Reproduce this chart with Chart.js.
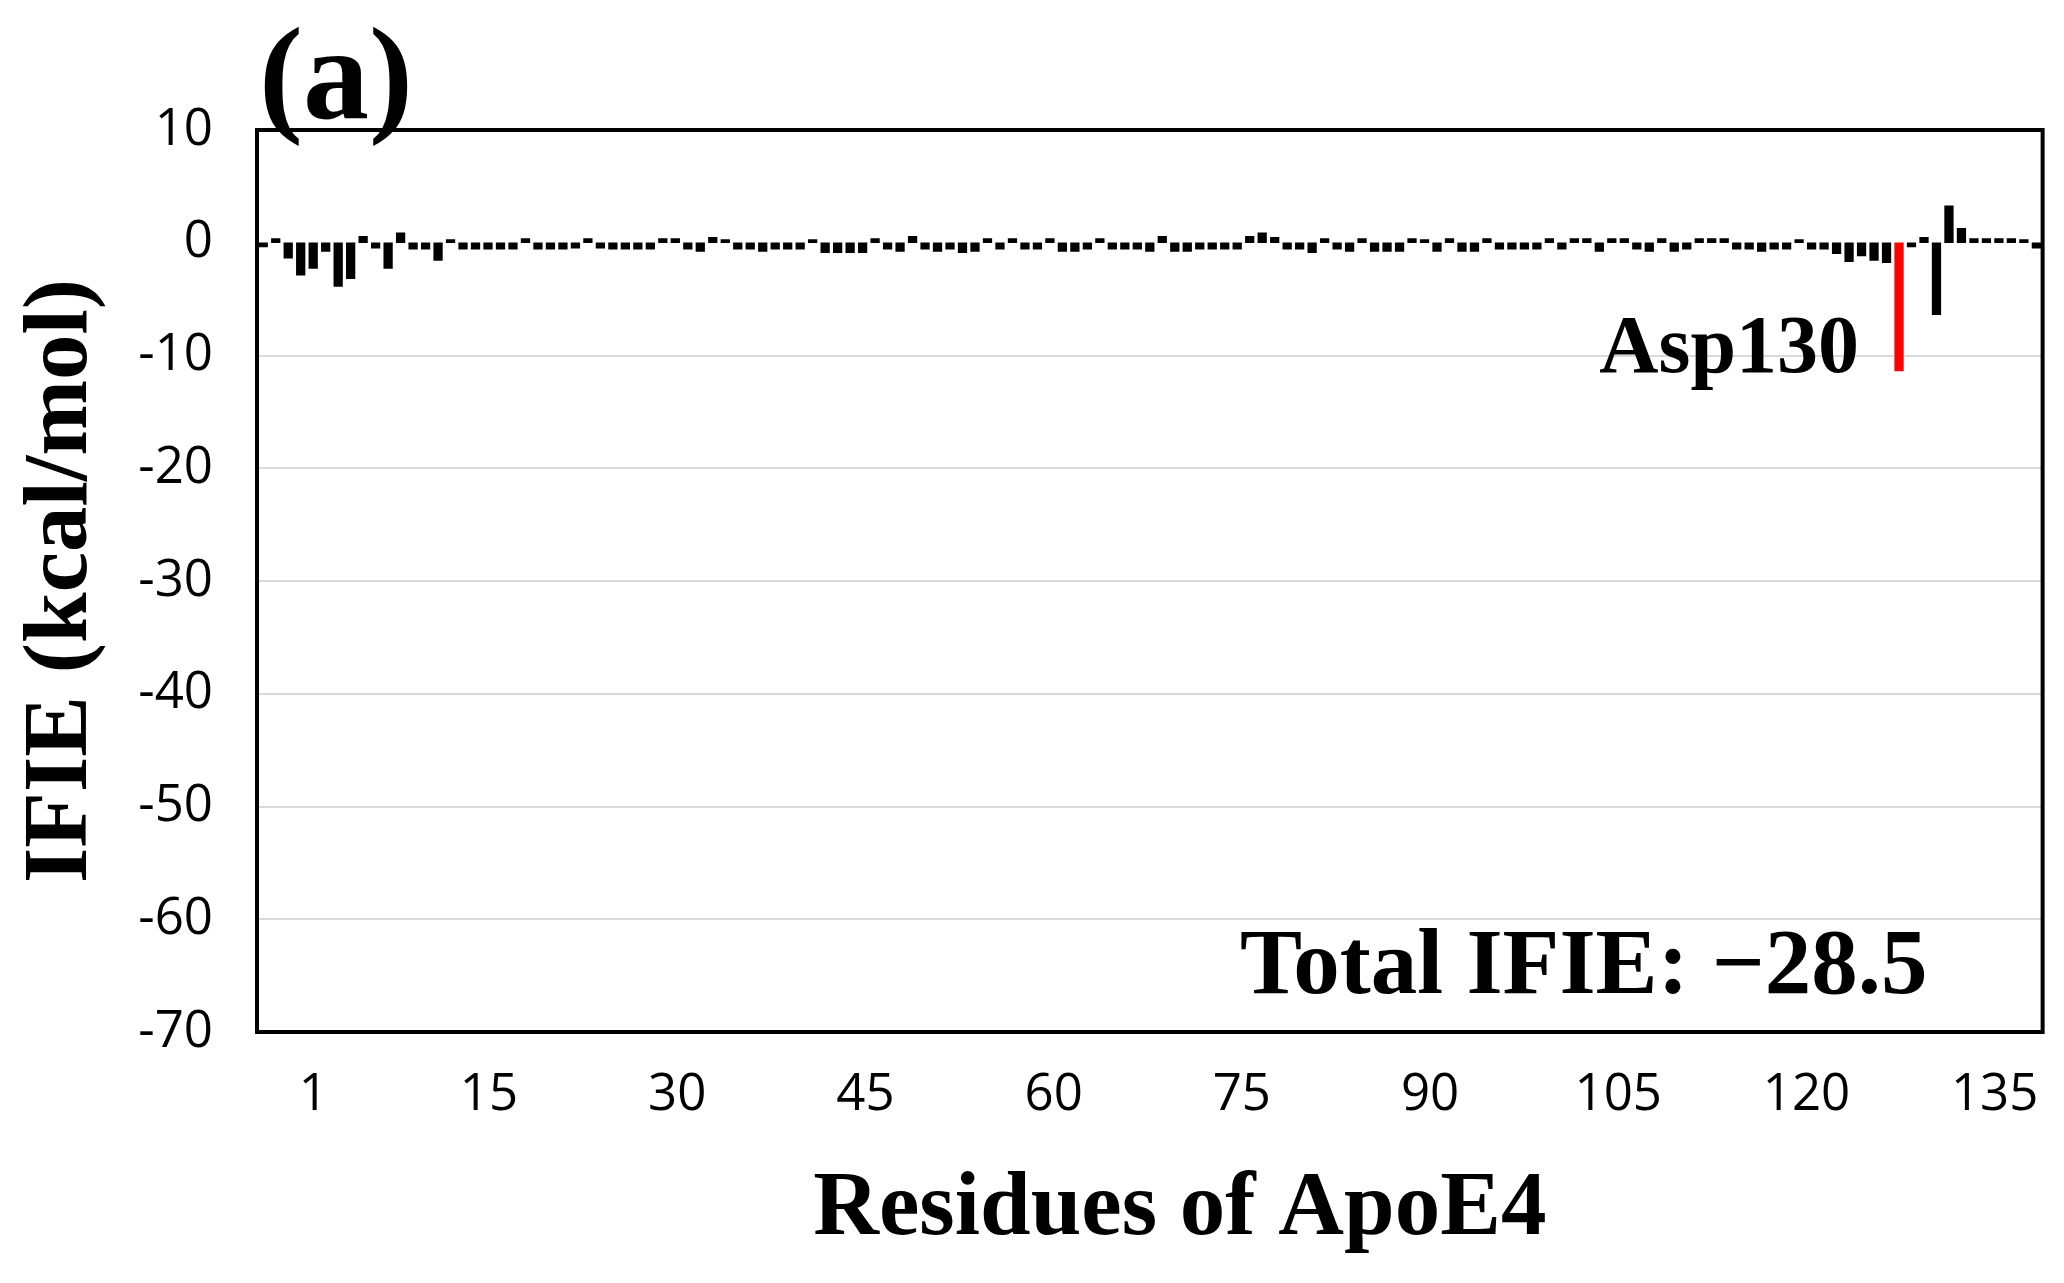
<!DOCTYPE html>
<html>
<head>
<meta charset="utf-8">
<script src="https://cdn.jsdelivr.net/npm/chart.js@4"></script>
<style>
  html, body { margin: 0; padding: 0; background: #fff; }
</style>
</head>
<body>
<canvas id="ifieChart" width="2064" height="1283"></canvas>
<script>
// Residue numbers of ApoE4 (x categories)
const residues = [
  -1, 0, 1, 2, 3, 4, 5, 6, 7, 8, 9, 10, 11, 12, 13, 14, 15, 16, 17, 18,
  19, 20, 21, 22, 23, 24, 25, 26, 27, 28, 29, 30, 31, 32, 33, 34, 35, 36, 37, 38,
  39, 40, 41, 42, 43, 44, 45, 46, 47, 48, 49, 50, 51, 52, 53, 54, 55, 56, 57, 58,
  59, 60, 61, 62, 63, 64, 65, 66, 67, 68, 69, 70, 71, 72, 73, 74, 75, 76, 77, 78,
  79, 80, 81, 82, 83, 84, 85, 86, 87, 88, 89, 90, 91, 92, 93, 94, 95, 96, 97, 98,
  99, 100, 101, 102, 103, 104, 105, 106, 107, 108, 109, 110, 111, 112, 113, 114, 115, 116, 117, 118,
  119, 120, 121, 122, 123, 124, 125, 126, 127, 128, 129, 130, 131, 132, 133, 134, 135, 136, 137, 138,
  139, 140, 141
];

// IFIE per residue (kcal/mol)
const ifie = [
  -0.3, 0.3, -1.3, -2.8, -2.2, -0.7, -3.8, -3.1, 0.5, -0.4,
  -2.2, 0.8, -0.5, -0.5, -1.5, 0.2, -0.5, -0.5, -0.5, -0.5,
  -0.5, 0.3, -0.5, -0.5, -0.5, -0.4, 0.3, -0.4, -0.5, -0.5,
  -0.5, -0.5, 0.3, 0.3, -0.5, -0.7, 0.4, 0.2, -0.5, -0.5,
  -0.7, -0.5, -0.5, -0.5, 0.2, -0.8, -0.8, -0.8, -0.8, 0.3,
  -0.5, -0.7, 0.5, -0.5, -0.7, -0.5, -0.8, -0.7, 0.3, -0.5,
  0.3, -0.5, -0.5, 0.3, -0.7, -0.7, -0.5, 0.3, -0.5, -0.5,
  -0.5, -0.7, 0.5, -0.7, -0.7, -0.5, -0.5, -0.5, -0.5, 0.5,
  0.8, 0.4, -0.5, -0.5, -0.8, 0.3, -0.5, -0.7, 0.3, -0.7,
  -0.7, -0.7, 0.3, 0.2, -0.7, 0.3, -0.7, -0.7, 0.3, -0.5,
  -0.5, -0.5, -0.5, 0.3, -0.5, 0.3, 0.3, -0.7, 0.3, 0.3,
  -0.5, -0.7, 0.3, -0.7, -0.5, 0.3, 0.3, 0.3, -0.5, -0.5,
  -0.7, -0.5, -0.5, 0.2, -0.5, -0.5, -0.9, -1.6, -1.1, -1.5,
  -1.7, -11.3, -0.3, 0.4, -6.3, 3.2, 1.2, 0.3, 0.3, 0.3,
  0.3, 0.2, -0.4
];

const highlightResidue = 130;
const xTickLabels = [1, 15, 30, 45, 60, 75, 90, 105, 120, 135];
const yTicks = [10, 0, -10, -20, -30, -40, -50, -60, -70];

const panelLabel = '(a)';
const highlightLabel = 'Asp130';
const totalLabel = 'Total IFIE: \u221228.5';
const xTitle = 'Residues of ApoE4';
const yTitle = 'IFIE (kcal/mol)';

const serif = '"Liberation Serif", "Times New Roman", serif';
const sans = '"Open Sans", "Liberation Sans", sans-serif';

// bar colours: red for the highlighted residue
const barColors = residues.map(r => r === highlightResidue ? '#ff0000' : '#000000');

// frame around the plot area
const frame = {
  id: 'frame',
  afterDatasetsDraw(chart) {
    const a = chart.chartArea;
    const ctx = chart.ctx;
    ctx.save();
    ctx.strokeStyle = '#000';
    ctx.lineWidth = 4;
    ctx.strokeRect(a.left, a.top, a.right - a.left, a.bottom - a.top);
    ctx.restore();
  }
};

// panel label, annotations and x title
const notes = {
  id: 'notes',
  afterDraw(chart) {
    const ctx = chart.ctx;
    const a = chart.chartArea;
    const x = chart.scales.x;
    const y = chart.scales.y;
    const hi = residues.indexOf(highlightResidue);
    ctx.save();
    ctx.fillStyle = '#000';
    ctx.textBaseline = 'alphabetic';

    ctx.font = 'bold 132px ' + serif;
    ctx.textAlign = 'left';
    ctx.fillText(panelLabel, a.left + 2, 118);

    ctx.font = 'bold 82px ' + serif;
    ctx.textAlign = 'right';
    ctx.fillText(highlightLabel, x.getPixelForValue(hi) - 40, y.getPixelForValue(-11.5));

    ctx.font = 'bold 93px ' + serif;
    ctx.textAlign = 'right';
    ctx.fillText(totalLabel, a.right - 115, y.getPixelForValue(-66.5));

    ctx.font = 'bold 91px ' + serif;
    ctx.textAlign = 'center';
    ctx.textBaseline = 'middle';
    ctx.fillText(xTitle, (a.left + a.right) / 2 + 30, 1210);
    ctx.restore();
  }
};

const ifieChart = new Chart(document.getElementById('ifieChart'), {
  type: 'bar',
  data: {
    labels: residues,
    datasets: [{
      data: ifie,
      backgroundColor: barColors,
      borderWidth: 0,
      inflateAmount: 1.2,
      barPercentage: 0.55,
      categoryPercentage: 1.0
    }]
  },
  options: {
    responsive: false,
    animation: false,
    layout: { padding: { top: 130, right: 21, left: 0, bottom: 0 } },
    plugins: {
      legend: { display: false },
      tooltip: { enabled: false }
    },
    scales: {
      // category axis that places the bars
      x: {
        type: 'category',
        offset: true,
        display: false
      },
      // residue label axis printed under the plot
      xLabel: {
        type: 'linear',
        axis: 'x',
        position: 'bottom',
        offset: false,
        beginAtZero: false,
        min: -3.49,
        max: 138.82,
        afterBuildTicks: function (scale) {
          scale.ticks = xTickLabels.map(v => ({ value: v }));
          scale.min = -3.49;
          scale.max = 138.82;
        },
        grid: { display: false, offset: false },
        border: { display: false },
        ticks: {
          padding: 25,
          color: '#000',
          font: { family: sans, size: 51 },
          callback: v => String(v)
        },
        afterFit: function (scale) { scale.height = 251; }
      },
      y: {
        type: 'linear',
        min: -70,
        max: 10,
        afterBuildTicks: function (scale) {
          scale.ticks = yTicks.map(v => ({ value: v }));
        },
        grid: {
          color: ctx => (ctx.tick && ctx.tick.value === 0) ? 'rgba(0,0,0,0)' : '#d9d9d9',
          lineWidth: 2,
          drawTicks: false
        },
        border: { display: false },
        ticks: {
          padding: 44,
          color: '#000',
          font: { family: sans, size: 51 },
          callback: v => String(v)
        },
        title: {
          display: true,
          text: yTitle,
          color: '#000',
          font: { family: serif, size: 91, weight: 'bold', lineHeight: 1 },
          padding: { top: 17, bottom: 0 }
        },
        afterFit: function (scale) { scale.width = 257; }
      }
    }
  },
  plugins: [frame, notes]
});
</script>
</body>
</html>
